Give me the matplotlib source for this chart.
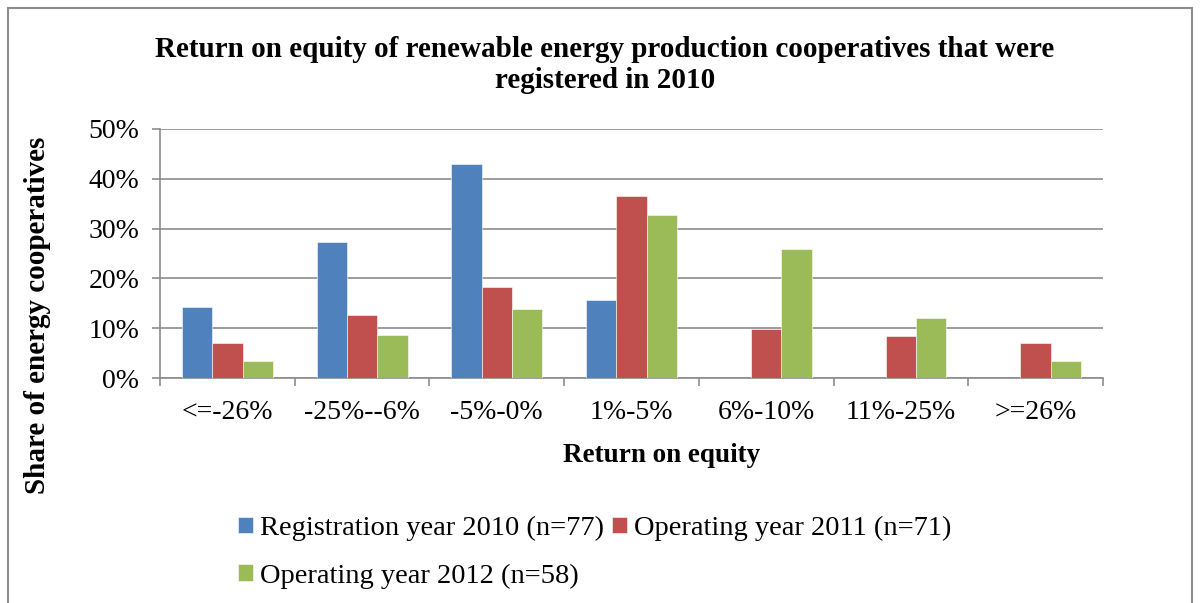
import numpy as np
import matplotlib
matplotlib.use("Agg")
from matplotlib import pyplot as plt
from matplotlib.patches import Rectangle
from matplotlib.ticker import FuncFormatter, FixedLocator

plt.rcParams['font.family'] = ['Liberation Serif', 'DejaVu Serif']

categories = ["<=-26%", "-25%--6%", "-5%-0%", "1%-5%", "6%-10%", "11%-25%", ">=26%"]
reg_2010 = [14.3, 27.3, 42.9, 15.6, 0, 0, 0]
op_2011 = [7.0, 12.7, 18.3, 36.6, 9.9, 8.5, 7.0]
op_2012 = [3.4, 8.6, 13.8, 32.8, 25.9, 12.1, 3.4]
series_names = ["Registration year 2010 (n=77)", "Operating year 2011 (n=71)", "Operating year 2012 (n=58)"]
colors = ["#4F81BD", "#C0504D", "#9BBB59"]

fig = plt.figure(figsize=(12, 6.03), dpi=100)
ax = fig.add_axes([160/1200, 1 - 378/603, (1103-160)/1200, (378-129)/603])

# outer chart frame
fig.patches.append(Rectangle((8/1200, -0.05), 1184/1200, 1.05 - 8/603,
                             transform=fig.transFigure, fill=False,
                             edgecolor="#8c8c8c", linewidth=1.5))

x = np.arange(len(categories))
w = 0.225
handles = []
for k, vals in enumerate([reg_2010, op_2011, op_2012]):
    b = ax.bar(x + (k - 1) * w, vals, width=w, color=colors[k],
               edgecolor="white", linewidth=0.4, zorder=3, label=series_names[k])
    handles.append(b)

ax.set_xlim(-0.5, len(categories) - 0.5)
ax.set_ylim(0, 50)
ax.set_yticks([0, 10, 20, 30, 40, 50])
ax.yaxis.set_major_formatter(FuncFormatter(lambda v, p: "%d%%" % v))
ax.grid(axis="y", color="#8c8c8c", linewidth=1.2, zorder=0)

ax.set_xticks(x)
ax.set_xticklabels(categories)
ax.xaxis.set_minor_locator(FixedLocator(np.arange(-0.5, len(categories), 1.0)))
ax.tick_params(axis="x", which="major", length=0, labelsize=20, pad=16)
ax.tick_params(axis="x", which="minor", length=6, width=1.2, color="#8c8c8c")
ax.tick_params(axis="y", length=6, width=1.2, color="#8c8c8c", labelsize=20, pad=9)

for s in ["top", "right"]:
    ax.spines[s].set_visible(False)
for s in ["left", "bottom"]:
    ax.spines[s].set_color("#8c8c8c")
    ax.spines[s].set_linewidth(1.2)

fig.text(605/1200, 1 - 65/603,
         "Return on equity of renewable energy production cooperatives that were\nregistered in 2010",
         ha="center", va="center", fontsize=21, fontweight="bold", linespacing=1.22)
fig.text(662/1200, 1 - 455/603, "Return on equity", ha="center", va="center",
         fontsize=19.5, fontweight="bold")
fig.text(38/1200, 1 - 315/603, "Share of energy cooperatives", ha="center", va="center",
         rotation=90, fontsize=21, fontweight="bold")

leg = fig.legend([handles[0], handles[2], handles[1]],
                 [series_names[0], series_names[2], series_names[1]],
                 ncol=2, loc="upper left", bbox_to_anchor=(238/1200, 1 - 516/603),
                 frameon=False, fontsize=20.5, handlelength=0.53, handleheight=0.53,
                 handletextpad=0.25, columnspacing=0.28, labelspacing=0.78,
                 borderaxespad=0, borderpad=0)

fig.savefig("out.png", dpi=100)
